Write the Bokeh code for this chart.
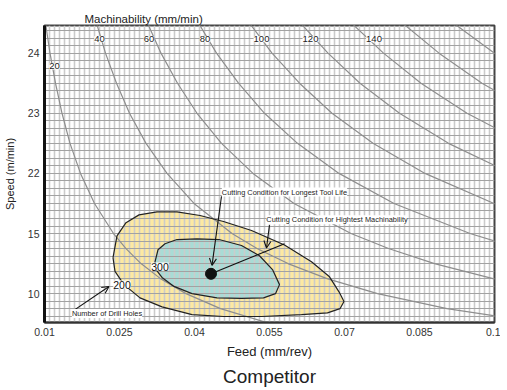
import numpy as np
from bokeh.plotting import figure
from bokeh.models import (FixedTicker, Range1d, LabelSet, ColumnDataSource,
                          Arrow, OpenHead, Title)
from bokeh.embed import file_html
from bokeh.resources import INLINE
from bokeh.core.properties import value

FONT = "Liberation Sans"

# ---------------- data ----------------
feed_ticks = [0.01, 0.025, 0.04, 0.055, 0.07, 0.085, 0.1]
feed_tick_labels = ["0.01", "0.025", "0.04", "0.055", "0.07", "0.085", "0.1"]
speed_rows = [0, 1, 2, 3, 4]                    # evenly spaced rows on the speed axis
speed_tick_labels = ["10", "15", "22", "23", "24"]

# machinability iso-curves: feed read at shared speed-row positions
curve_rows = [4.5, 4.0, 3.5, 3.0, 2.5, 2.0, 1.5, 1.0, 0.75, 0.5, 0.25, 0.0, -0.25, -0.5]
curve_20 = [0.0102, 0.0111, 0.0122, 0.0135, 0.0151, 0.0172, 0.0200, 0.0238, 0.0263, 0.0293, 0.0332, 0.0383, 0.0452, 0.0552]
curve_40 = [0.0204, 0.0222, 0.0244, 0.0270, 0.0303, 0.0345, 0.0399, 0.0475, 0.0525, 0.0587, 0.0665, 0.0766, 0.0905, 0.1104]
curve_60 = [0.0306, 0.0333, 0.0366, 0.0405, 0.0454, 0.0517, 0.0599, 0.0713, 0.0788, 0.0880, 0.0997, 0.1149]
curve_80 = [0.0408, 0.0444, 0.0488, 0.0540, 0.0606, 0.0689, 0.0799, 0.0951, 0.1050]
curve_100 = [0.0510, 0.0555, 0.0610, 0.0675, 0.0757, 0.0861, 0.0999, 0.1188]
curve_120 = [0.0612, 0.0667, 0.0731, 0.0810, 0.0908, 0.1033]
curve_140 = [0.0714, 0.0778, 0.0853, 0.0945, 0.1060]
curve_160 = [0.0816, 0.0889, 0.0975, 0.1081]
curve_180 = [0.0918, 0.1000, 0.1097]
curves = [curve_20, curve_40, curve_60, curve_80, curve_100, curve_120, curve_140, curve_160, curve_180]

mach_label_text = ["20", "40", "60", "80", "100", "120", "140"]
mach_label_feed = [0.0120, 0.0210, 0.0309, 0.0421, 0.0534, 0.0632, 0.0759]
mach_label_row = [3.78, 4.23, 4.23, 4.23, 4.23, 4.23, 4.23]

# number-of-drill-holes regions
outer_feed = [0.0237, 0.0245, 0.0263, 0.0289, 0.0325, 0.0365, 0.0411, 0.0458, 0.0514, 0.0580,
              0.0634, 0.0670, 0.0689, 0.0699, 0.0691, 0.0666, 0.0614, 0.0534, 0.0458, 0.0395,
              0.0335, 0.0291, 0.0259, 0.0241]
outer_row = [0.60, 0.96, 1.18, 1.31, 1.36, 1.36, 1.30, 1.20, 1.05, 0.81,
             0.53, 0.28, 0.03, -0.13, -0.25, -0.32, -0.35, -0.38, -0.38, -0.35,
             -0.22, -0.07, 0.15, 0.37]
inner_feed = [0.0321, 0.0327, 0.0341, 0.0365, 0.0405, 0.0449, 0.0494, 0.0530, 0.0556,
              0.0570, 0.0562, 0.0538, 0.0494, 0.0445, 0.0395, 0.0359, 0.0335, 0.0323]
inner_row = [0.53, 0.73, 0.83, 0.90, 0.91, 0.90, 0.80, 0.63, 0.40,
             0.15, 0.00, -0.07, -0.08, -0.07, 0.00, 0.12, 0.27, 0.40]
region_label_text = ["200", "300"]
region_label_feed = [0.0255, 0.0331]
region_label_row = [0.15, 0.45]

# cutting conditions
opt_feed = [0.0433]
opt_row = [0.33]
mach_dir_feed = [0.0433, 0.0580]
mach_dir_row = [0.33, 0.83]

note_text = ["Cutting Condition for Longest Tool Life",
             "Cutting Condition for Hightest Machinability",
             "Number of Drill Holes"]
note_feed = [0.0580, 0.0685, 0.0225]
note_row = [1.69, 1.23, -0.33]
arrow_start_feed = [0.0454, 0.0550, 0.0160]
arrow_start_row = [1.62, 1.14, -0.27]
arrow_end_feed = [0.0435, 0.0544, 0.0229]
arrow_end_row = [0.47, 0.76, 0.12]

feed_grid = list(np.round(np.arange(0.011, 0.0995, 0.001), 4))
row_grid = list(np.arange(-0.375, 4.45, 0.125))

# ---------------- figure ----------------
p = figure(width=500, height=388, output_backend="svg", toolbar_location=None,
           x_range=Range1d(0.01, 0.1), y_range=Range1d(-0.48, 4.46),
           min_border_left=42, min_border_right=6, min_border_top=25, min_border_bottom=65)
p.background_fill_color = "white"
p.border_fill_color = "white"
p.outline_line_color = "#444444"
p.outline_line_width = 2

p.xgrid.ticker = FixedTicker(ticks=feed_grid)
p.xgrid.grid_line_color = "#cbcbcb"
p.xgrid.grid_line_width = 1.6
p.ygrid.ticker = FixedTicker(ticks=row_grid)
p.ygrid.grid_line_color = "#a2a2a2"
p.ygrid.grid_line_width = 1

p.xaxis.ticker = feed_ticks
p.xaxis.major_label_overrides = {t: l for t, l in zip(feed_ticks, feed_tick_labels)}
p.yaxis.ticker = speed_rows
p.yaxis.major_label_overrides = {t: l for t, l in zip(speed_rows, speed_tick_labels)}
for ax in (p.xaxis, p.yaxis):
    ax.major_tick_line_color = None
    ax.minor_tick_line_color = None
    ax.major_tick_out = 0
    ax.major_tick_in = 0
    ax.minor_tick_out = 0
    ax.minor_tick_in = 0
    ax.major_label_text_font = FONT
    ax.major_label_text_font_size = "10.5px"
    ax.major_label_text_color = "#333333"
    ax.major_label_standoff = 5
    ax.axis_label_text_font = FONT
    ax.axis_label_text_font_style = "normal"
    ax.axis_label_text_color = "#222222"
p.xaxis.axis_line_color = "#333333"
p.xaxis.axis_line_width = 2
p.yaxis.axis_line_color = "#111111"
p.yaxis.axis_line_width = 3
p.yaxis.axis_label = "Speed (m/min)"
p.yaxis.axis_label_text_font_size = "11px"
p.yaxis.axis_label_standoff = 9
p.xaxis.axis_label = "Feed (mm/rev)"
p.xaxis.axis_label_text_font_size = "13px"
p.xaxis.axis_label_standoff = 5

# regions (under the grid)
p.patch(outer_feed, outer_row, fill_color="#fde9a1", line_color=None, level="image")
p.patch(inner_feed, inner_row, fill_color="#a8dcd6", line_color=None, level="image")

# machinability curves
for c in curves:
    p.line(c, curve_rows[:len(c)], line_color="#8e8e8e", line_width=1.2)

# region outlines
p.line(outer_feed + outer_feed[:1], outer_row + outer_row[:1], line_color="#222222", line_width=1.2)
p.line(inner_feed + inner_feed[:1], inner_row + inner_row[:1], line_color="#222222", line_width=1.2)

p.line(mach_dir_feed, mach_dir_row, line_color="#111111", line_width=1.2)
p.scatter(opt_feed, opt_row, size=11, color="#111111")

for xs, ys, xe, ye in zip(arrow_start_feed, arrow_start_row, arrow_end_feed, arrow_end_row):
    p.add_layout(Arrow(end=OpenHead(size=7, line_width=1.1, line_color="#111111"),
                       x_start=xs, y_start=ys, x_end=xe, y_end=ye,
                       line_width=1.1, line_color="#111111"))

p.add_layout(LabelSet(source=ColumnDataSource(dict(x=mach_label_feed, y=mach_label_row, t=mach_label_text)),
                      x="x", y="y", text="t", text_align="center", text_baseline="middle",
                      text_font=value(FONT), text_font_size=value("9.5px"), text_color="#222222",
                      background_fill_color="white"))
p.add_layout(LabelSet(source=ColumnDataSource(dict(x=region_label_feed, y=region_label_row, t=region_label_text)),
                      x="x", y="y", text="t", text_align="center", text_baseline="middle",
                      text_font=value(FONT), text_font_size=value("10.5px"), text_color="#111111",
                      background_fill_color="white"))
p.add_layout(LabelSet(source=ColumnDataSource(dict(x=note_feed, y=note_row, t=note_text)),
                      x="x", y="y", text="t", text_align="center", text_baseline="middle",
                      text_font=value(FONT), text_font_size=value("7.4px"), text_color="#222222",
                      background_fill_color="white"))

# titles
top_title = Title(text="Machinability (mm/min)", align="left", offset=40, standoff=2,
                  text_font=FONT, text_font_size="11.5px", text_font_style="normal",
                  text_color="#222222")
p.add_layout(top_title, "above")
bottom_title = Title(text="Competitor", align="center", standoff=4,
                     text_font=FONT, text_font_size="19px", text_font_style="normal",
                     text_color="#222222")
p.add_layout(bottom_title, "below")

open("out.html", "w").write(file_html(p, INLINE))
